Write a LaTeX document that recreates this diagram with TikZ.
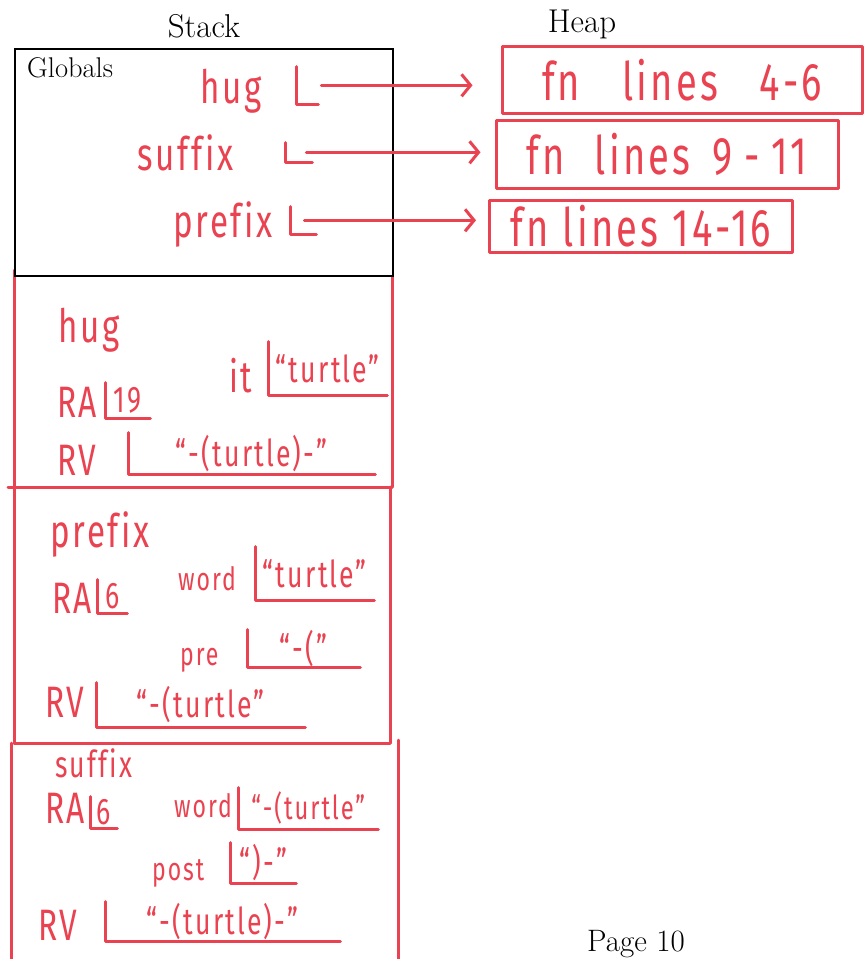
\documentclass[tikz,border=0pt]{standalone}
\usepackage{fontspec}
\usetikzlibrary{arrows.meta}
\newfontfamily\hand[FakeStretch=0.72, LetterSpace=6, Ligatures={NoCommon}]{Fira Sans}
\definecolor{ink}{RGB}{233,66,80}
\tikzset{
 rl/.style={draw=ink, line width=3pt, line cap=round, line join=round},
 hwbig/.style={text=ink, font=\hand\fontsize{46}{50}\selectfont, inner sep=0pt},
 hwlab/.style={text=ink, font=\hand\fontsize{44}{48}\selectfont, inner sep=0pt},
 hwmid/.style={text=ink, font=\hand\fontsize{37}{41}\selectfont, inner sep=0pt},
 hwsm/.style={text=ink, font=\hand\fontsize{32}{36}\selectfont, inner sep=0pt},
 heapbox/.style={rl, text=ink, font=\hand\fontsize{53}{57}\selectfont, inner sep=0pt},
 ptr/.style={rl, -{Straight Barb[length=9pt,width=22pt]}},
 title/.style={font=\fontsize{33}{36}\selectfont, inner sep=0pt, anchor=base},
}
\newcommand\Lslot[6]{%
 \node[hwmid, minimum width=#4pt, minimum height=#5pt, anchor=south west] (#1) at (#2,#3) {#6};
 \draw[rl] (#1.north west) -- (#1.south west) -- (#1.south east);}
\begin{document}
\begin{tikzpicture}[x=1pt,y=-1pt]
\path[use as bounding box] (0,0) rectangle (864,959);
% titles
\node[title] (stack) at (204,37) {Stack};
\node[title] (heap) at (582,32) {Heap};
\node[font=\fontsize{28.5}{30}\selectfont, anchor=base west, inner sep=0pt] (glob) at (27,77) {Globals};
\node[font=\fontsize{31}{33}\selectfont, anchor=base west, inner sep=0pt] (page) at (587,951) {Page 10};
% red frames
\draw[rl] (14,270) -- (14,487);
\draw[rl] (392,276) -- (392,487);
\draw[rl] (8,487) -- (392,487);
\draw[rl] (14,487) -- (14,743);
\draw[rl] (390,487) -- (390,743);
\draw[rl] (14,743) -- (390,743);
\draw[rl] (11,743) -- (11,959);
\draw[rl] (398,740) -- (398,959);
% globals box
\draw[line width=1.6pt] (15,49) rectangle (393,276);
% globals
\node[hwbig, anchor=base west] (lhug) at (200,103) {hug};
\node[hwbig, anchor=base west] (lsuf) at (137,170) {suffix};
\node[hwbig, anchor=base west] (lpre) at (173,237) {prefix};
\Lslot{gHug}{296}{104}{22}{37}{}
\Lslot{gSuf}{285}{162}{27}{19}{}
\Lslot{gPre}{290}{234}{26}{27}{}
% heap
\node[heapbox, minimum width=360pt, minimum height=67pt] (hHug) at (682,80) {fn\hspace{42pt}lines\hspace{42pt}4-6};
\node[heapbox, minimum width=342pt, minimum height=68pt] (hSuf) at (667,154) {fn\hspace{30pt}lines\hspace{22pt}9\hspace{12pt}-\hspace{12pt}11};
\node[heapbox, minimum width=303pt, minimum height=52pt] (hPre) at (641,226) {fn\hspace{14pt}lines\hspace{14pt}14-16};
\draw[ptr, shorten >=28pt] ([xshift=3pt]gHug.east) -- (gHug.east -| hHug.west);
\draw[ptr, shorten >=14pt] ([xshift=-6pt]gSuf.east) -- (gSuf.east -| hSuf.west);
\draw[ptr, shorten >=12pt] ([xshift=-12pt]gPre.east) -- (gPre.east -| hPre.west);
% frame hug
\node[hwbig, anchor=base west] (fHug) at (58,342) {hug};
\node[hwlab, anchor=base west] (huRAl) at (57,417) {RA};
\Lslot{huRA}{105}{418}{45}{35}{19}
\node[hwlab, anchor=base west] (huItl) at (229,392) {it};
\Lslot{huIt}{268}{395}{119}{53}{“turtle”}
\node[hwlab, anchor=base west] (huRVl) at (57,475) {RV};
\Lslot{huRV}{128}{474}{247}{41}{“-(turtle)-”}
% frame prefix
\node[hwbig, anchor=base west] (fPre) at (50,547) {prefix};
\node[hwlab, anchor=base west] (prRAl) at (52,613) {RA};
\Lslot{prRA}{97}{613}{30}{33}{6}
\node[hwsm, anchor=base west] (prWordl) at (178,590) {word};
\Lslot{prWord}{255}{600}{119}{53}{“turtle”}
\node[hwsm, anchor=base west] (prPrel) at (180,665) {pre};
\Lslot{prPre}{247}{667}{113}{37}{“-(”}
\node[hwlab, anchor=base west] (prRVl) at (45,717) {RV};
\Lslot{prRV}{96}{727}{209}{44}{“-(turtle”}
% frame suffix
\node[hwmid, anchor=base west] (fSuf) at (55,777) {suffix};
\node[hwlab, anchor=base west] (suRAl) at (45,823) {RA};
\Lslot{suRA}{90}{828}{27}{31}{6}
\node[hwsm, anchor=base west] (suWordl) at (174,817) {word};
\Lslot{suWord}{238}{829}{140}{41}{\fontsize{33}{36}\selectfont“-(turtle”}
\node[hwsm, anchor=base west] (suPostl) at (152,880) {post};
\Lslot{suPost}{230}{883}{66}{40}{“)-”}
\node[hwlab, anchor=base west] (suRVl) at (38,940) {RV};
\Lslot{suRV}{105}{941}{235}{39}{“-(turtle)-”}
\end{tikzpicture}
\end{document}
